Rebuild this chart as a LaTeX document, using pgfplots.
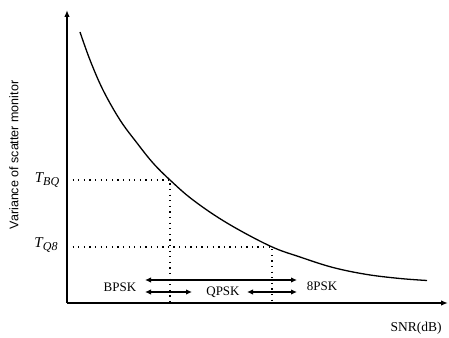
\documentclass[border=0pt]{standalone}
\usepackage{pgfplots}
\pgfplotsset{compat=1.18}
\usetikzlibrary{arrows.meta}
\usepackage{fontspec}
\setmainfont{Liberation Serif}
\setsansfont{Liberation Sans}
\newcommand{\sub}[1]{\raisebox{-0.35ex}{\fontsize{12}{13}\selectfont #1}}
\begin{document}
\begin{tikzpicture}
\begin{axis}[
  x=1pt, y=1pt,
  xmin=0, xmax=381, ymin=0, ymax=293,
  axis lines=left,
  axis line style={line width=1.5pt, -{Latex[length=7pt,width=5.5pt]}},
  xtick=\empty, ytick=\empty,
  clip=false,
]
\path (axis cs:-67,-32) rectangle (axis cs:382,303);
\addplot[black, line width=1.3pt, smooth, tension=0.6] coordinates {
(13,271) (23,243) (36,213) (53,183) (70,160) (86,140) (103,123) (126,103) (160,80) (203,57) (233,46) (266,35.5) (300,28.5) (333,24.5) (360,22.5)
};
\addplot[black, line width=1.1pt, dash pattern=on 1.3pt off 4.3pt] coordinates {(0,123) (103,123) (103,0)};
\addplot[black, line width=1.1pt, dash pattern=on 1.3pt off 4.3pt] coordinates {(0,56) (205,56) (205,0)};
\addplot[black, line width=1.5pt, {Latex[length=6pt,width=5.5pt]}-{Latex[length=6pt,width=5.5pt]}] coordinates {(78,23) (230,23)};
\addplot[black, line width=1.5pt, {Latex[length=6pt,width=5.5pt]}-{Latex[length=6pt,width=5.5pt]}] coordinates {(78,11) (125,11)};
\addplot[black, line width=1.5pt, {Latex[length=6pt,width=5.5pt]}-{Latex[length=6pt,width=5.5pt]}] coordinates {(180,11) (230,11)};
\node[font=\fontsize{13}{15}\selectfont] at (axis cs:53,16) {BPSK};
\node[font=\fontsize{13}{15}\selectfont] at (axis cs:156,11) {QPSK};
\node[font=\fontsize{13}{15}\selectfont] at (axis cs:255,17) {8PSK};
\node[font=\fontsize{13.5}{15}\selectfont] at (axis cs:349,-25) {SNR(dB)};
\node[font=\fontsize{15}{17}\selectfont\itshape] at (axis cs:-20,123) {T\sub{BQ}};
\node[font=\fontsize{15}{17}\selectfont\itshape] at (axis cs:-21,58) {T\sub{Q8}};
\node[font=\sffamily\fontsize{12.5}{14}\selectfont, rotate=90] at (axis cs:-53,148) {Variance of scatter monitor};
\end{axis}
\end{tikzpicture}
\end{document}
